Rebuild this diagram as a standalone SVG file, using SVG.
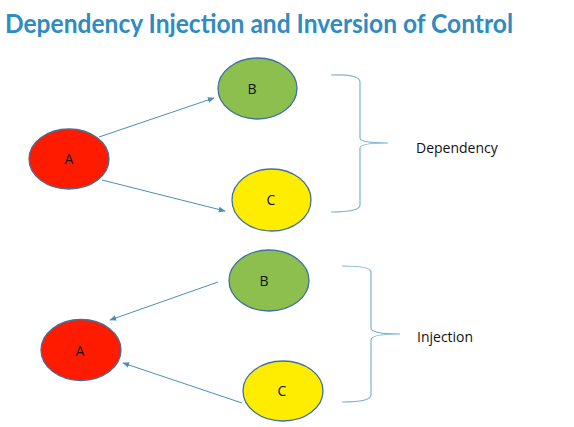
<svg xmlns="http://www.w3.org/2000/svg" width="574" height="427" viewBox="0 0 574 427">
<defs>
<style>
.red{fill:#fe1b00;stroke:#41719c;stroke-width:1.3}
.green{fill:#8cbf4e;stroke:#41719c;stroke-width:1.3}
.yellow{fill:#ffed00;stroke:#41719c;stroke-width:1.3}
.lbl{font-family:"Open Sans","Noto Sans",sans-serif;font-size:14px;fill:#111;text-anchor:middle}
.side{font-family:"Open Sans","Noto Sans",sans-serif;font-size:14px;fill:#111}
.edge{stroke:#4a8fbb;stroke-width:1;fill:none;marker-end:url(#ah)}
.brace{stroke:#7db4d3;stroke-width:1.2;fill:none}
</style>
<marker id="ah" viewBox="0 0 10 10" refX="9" refY="5" markerWidth="7" markerHeight="7" orient="auto" markerUnits="userSpaceOnUse">
<path d="M0,1 L10,5 L0,9 z" fill="#4a8fbb"/>
</marker>
</defs>
<rect width="574" height="427" fill="#ffffff"/>
<text x="5" y="33" font-family="Lato,'Open Sans',sans-serif" font-size="26" font-weight="bold" fill="#2f8bc2" textLength="508" lengthAdjust="spacingAndGlyphs">Dependency Injection and Inversion of Control</text>
<g id="connectors">
<line class="edge" x1="99" y1="137" x2="214" y2="98"/>
<line class="edge" x1="102" y1="180" x2="225" y2="211"/>
<line class="edge" x1="218" y1="282" x2="110" y2="320"/>
<line class="edge" x1="242" y1="403" x2="123" y2="363"/>
</g>
<g id="brace-top">
<path class="brace" d="M331,75 Q360,74 360,82 L360,138 Q360,143 388,143 Q360,143 360,148 L360,205 Q360,212 331,212"/>
<text class="side" x="416" y="153">Dependency</text>
</g>
<g id="brace-bottom">
<path class="brace" d="M342,266 Q371,266 371,272 L371,328 Q371,334 400,334 Q371,334 371,340 L371,395 Q371,402 342,402"/>
<text class="side" x="417" y="342">Injection</text>
</g>
<g id="top-A"><ellipse class="red" cx="69" cy="159" rx="40" ry="30"/><text class="lbl" x="69" y="164">A</text></g>
<g id="top-B"><ellipse class="green" cx="257.5" cy="88.5" rx="39.5" ry="30.5"/><text class="lbl" x="252" y="94">B</text></g>
<g id="top-C"><ellipse class="yellow" cx="271.5" cy="200" rx="39.5" ry="31"/><text class="lbl" x="271" y="205">C</text></g>
<g id="bottom-A"><ellipse class="red" cx="81" cy="350" rx="40" ry="30.5"/><text class="lbl" x="80" y="356">A</text></g>
<g id="bottom-B"><ellipse class="green" cx="269" cy="280.5" rx="40" ry="30.5"/><text class="lbl" x="264" y="286">B</text></g>
<g id="bottom-C"><ellipse class="yellow" cx="283" cy="391" rx="40" ry="30"/><text class="lbl" x="282" y="396">C</text></g>
</svg>
